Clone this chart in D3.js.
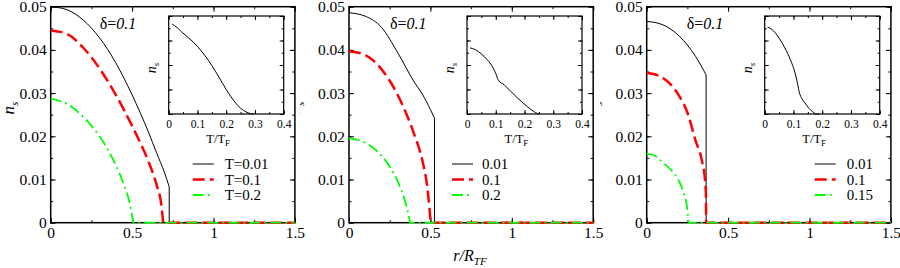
<!DOCTYPE html>
<html><head><meta charset="utf-8">
<script src="https://cdn.jsdelivr.net/npm/d3@7"></script>
<style>
body{margin:0;background:#fff}
svg{display:block}
svg text{font-family:"Liberation Serif","Times New Roman",Times,"Nimbus Roman","DejaVu Serif",serif !important;fill:#000}
</style>
</head><body>
<svg id="c" width="900" height="268" font-family="Liberation Serif, Times New Roman, Times, DejaVu Serif, serif"></svg>
<script>
// ---------------- DATA ----------------
const xTickValues = [0, 0.5, 1, 1.5];
const xTickLabels = ["0", "0.5", "1", "1.5"];
const yTickValues = [0, 0.01, 0.02, 0.03, 0.04, 0.05];
const yTickLabels = ["0", "0.01", "0.02", "0.03", "0.04", "0.05"];
const insetXTickValues = [0, 0.1, 0.2, 0.3, 0.4];
const insetXTickLabels = ["0", "0.1", "0.2", "0.3", "0.4"];

const legend1 = ["T=0.01", "T=0.1", "T=0.2"];
const legend2 = ["0.01", "0.1", "0.2"];
const legend3 = ["0.01", "0.1", "0.15"];
const deltaText = ["δ=", "0.1"];

// panel 1 : n_s(r)
const p1Black = [[0,0.0500],[0.1,0.0493],[0.2,0.0469],[0.3,0.0428],[0.4,0.0370],[0.5,0.0296],[0.6,0.0210],[0.65,0.0162],[0.7,0.0115],[0.728,0.0083]];
const p1Red   = [[0,0.0445],[0.1,0.0437],[0.2,0.0405],[0.3,0.0357],[0.4,0.0296],[0.5,0.0224],[0.55,0.0185],[0.6,0.0142],[0.65,0.0088],[0.68,0.0040],[0.691,0]];
const p1Green = [[0,0.0287],[0.1,0.0275],[0.2,0.0245],[0.3,0.0200],[0.35,0.0170],[0.4,0.0133],[0.45,0.0088],[0.48,0.0053],[0.5,0.0015],[0.507,0]];
// panel 2
const p2Black = [[0,0.0486],[0.1,0.0478],[0.2,0.0452],[0.3,0.0393],[0.4,0.0326],[0.45,0.0298],[0.5,0.0262],[0.525,0.0242]];
const p2Red   = [[0,0.0397],[0.1,0.0388],[0.2,0.0355],[0.3,0.0295],[0.4,0.0205],[0.45,0.0145],[0.48,0.0085],[0.495,0.0030],[0.502,0]];
const p2Green = [[0,0.0195],[0.1,0.0185],[0.2,0.0155],[0.25,0.0130],[0.3,0.0095],[0.34,0.0055],[0.365,0.0020],[0.375,0]];
// panel 3
const p3Black = [[0,0.0466],[0.1,0.0458],[0.2,0.0432],[0.3,0.0385],[0.365,0.0342]];
const p3Red   = [[0,0.0347],[0.1,0.0335],[0.2,0.0293],[0.25,0.0255],[0.3,0.0190],[0.34,0.0142],[0.358,0.0099],[0.364,0.0065],[0.365,0]];
const p3Green = [[0,0.0160],[0.05,0.0155],[0.1,0.0139],[0.15,0.0122],[0.2,0.0095],[0.23,0.0065],[0.25,0.0030],[0.257,0]];

// insets : n_s vs T/T_F
const inset1 = [[0.012,0.0367],[0.03,0.0352],[0.045,0.0335],[0.07,0.0310],[0.10,0.0276],[0.125,0.0240],[0.15,0.0198],[0.175,0.0150],[0.20,0.0100],[0.22,0.0065],[0.24,0.0035],[0.26,0.0015],[0.28,0.0003],[0.295,0]];
const inset2 = [[0.01,0.0270],[0.03,0.0262],[0.05,0.0245],[0.07,0.0222],[0.09,0.0190],[0.10,0.0165],[0.108,0.0140],[0.13,0.0118],[0.15,0.0095],[0.17,0.0072],[0.19,0.0050],[0.21,0.0030],[0.23,0.0012],[0.245,0.0002],[0.25,0]];
const inset3 = [[0.01,0.0355],[0.03,0.0340],[0.05,0.0310],[0.07,0.0270],[0.09,0.0220],[0.105,0.0170],[0.115,0.0120],[0.12,0.0090],[0.13,0.0062],[0.14,0.0045],[0.155,0.0022],[0.17,0.0006],[0.18,0],[0.19,0]];

// ---------------- LAYOUT ----------------
const FONT = '"Liberation Serif","Times New Roman",Times,"DejaVu Serif",serif';
const svg = d3.select("#c");
const yTopPx = 6.7, yBotPx = 222.7, pxPerUnit = 162.8;
const panels = [
  {x0:50.7, series:[p1Black,p1Red,p1Green], inset:inset1, legend:legend1, dx:49, legX:142, legText:174, clipL:0},
  {x0:349,  series:[p2Black,p2Red,p2Green], inset:inset2, legend:legend2, dx:41, legX:103, legText:133, clipL:300},
  {x0:646.7,series:[p3Black,p3Red,p3Green], inset:inset3, legend:legend3, dx:40, legX:168, legText:200, clipL:600}
];
const styles = [
  {stroke:"#000", width:1, dash:null},
  {stroke:"#ff0000", width:2.5, dash:"12,5"},
  {stroke:"#00ff00", width:1.8, dash:"11,4,2,4"}
];

function tickAxis(axisFn, scale, values, size) {
  return axisFn(scale).tickValues(values).tickSizeInner(-size).tickSizeOuter(0).tickFormat("");
}
function minorVals(domain, step) {
  const out = [];
  for (let v = domain[0]; v <= domain[1] + 1e-9; v += step) out.push(+v.toFixed(6));
  return out;
}
function styleLabels(sel, size) {
  sel.attr("font-family", FONT).selectAll("text").attr("font-family", FONT).style("font-size", size);
}

panels.forEach((p, pi) => {
  const g = svg.append("g");
  const x = d3.scaleLinear().domain([0, 1.5]).range([p.x0, p.x0 + 1.5 * pxPerUnit]);
  const y = d3.scaleLinear().domain([0, 0.05]).range([yBotPx, yTopPx]);
  const xr = x.range(), yr = y.range();

  // frame
  g.append("rect").attr("x", xr[0]).attr("y", yr[1]).attr("width", xr[1]-xr[0]).attr("height", yr[0]-yr[1])
    .attr("fill", "none").attr("stroke", "#000").attr("stroke-width", 1.5);

  const xMinor = minorVals([0,1.5], 0.25), yMinor = minorVals([0,0.05], 0.005);
  const axes = [
    [d3.axisBottom, yr[0], x, 0], [d3.axisTop, yr[1], x, 0],
    [d3.axisLeft, xr[0], y, 1], [d3.axisRight, xr[1], y, 1]
  ];
  axes.forEach(([fn, pos, sc, vert]) => {
    const tr = vert ? `translate(${pos},0)` : `translate(0,${pos})`;
    const maj = vert ? yTickValues : xTickValues;
    const mn = vert ? yMinor : xMinor;
    g.append("g").attr("transform", tr).call(tickAxis(fn, sc, mn, 2.5)).call(a => a.select(".domain").remove())
      .selectAll("line").attr("stroke", "#000");
    g.append("g").attr("transform", tr).call(tickAxis(fn, sc, maj, 5)).call(a => a.select(".domain").remove())
      .selectAll("line").attr("stroke", "#000");
  });

  // tick labels
  g.append("g").attr("transform", `translate(0,${yr[0]})`)
    .call(d3.axisBottom(x).tickValues(xTickValues).tickSize(0).tickPadding(4).tickFormat((d,i)=>xTickLabels[i]))
    .call(a => a.select(".domain").remove())
    .call(s => styleLabels(s, "15.5px"));
  g.append("g").attr("transform", `translate(${xr[0]},0)`)
    .call(d3.axisLeft(y).tickValues(yTickValues).tickSize(0).tickPadding(4).tickFormat((d,i)=>yTickLabels[i]))
    .call(a => a.select(".domain").remove())
    .call(s => styleLabels(s, "15.5px"));

  // y label (clipped to the panel's own strip)
  const cid = "clip" + pi;
  svg.append("clipPath").attr("id", cid).append("rect").attr("x", p.clipL).attr("y", 0).attr("width", 300).attr("height", 268);
  const yl = svg.append("g").attr("clip-path", `url(#${cid})`).append("text")
    .attr("transform", `translate(${p.x0 - (pi === 0 ? 37 : 49)},108) rotate(-90)`)
    .attr("text-anchor", "middle").attr("font-family", FONT).style("font-size", "17px").style("font-style", "italic");
  yl.append("tspan").text("n");
  yl.append("tspan").attr("dy", 4).style("font-size", "11px").text("s");

  // series
  const smooth = d3.line().x(d => x(d[0])).y(d => y(d[1])).curve(d3.curveMonotoneX);
  const lin = d3.line().x(d => x(d[0])).y(d => y(d[1]));
  p.series.forEach((pts, si) => {
    const last = pts[pts.length - 1];
    const tail = [last, [last[0], 0], [1.5, 0]];
    const dStr = smooth(pts) + lin(tail).replace(/^M[^LC]*/, "");
    const st = styles[si];
    g.append("path").attr("d", dStr).attr("fill", "none").attr("stroke", st.stroke)
      .attr("stroke-width", st.width).attr("stroke-dasharray", st.dash);
  });

  // delta label
  const dt = g.append("text").attr("x", p.x0 + p.dx).attr("y", 29).attr("font-family", FONT).style("font-size", "16px");
  dt.append("tspan").text(deltaText[0]);
  dt.append("tspan").style("font-style", "italic").text(deltaText[1]);

  // legend
  p.legend.forEach((lab, i) => {
    const ly = 164 + i * 15.5;
    const st = styles[i];
    g.append("line").attr("x1", p.x0 + p.legX).attr("x2", p.x0 + p.legX + 21).attr("y1", ly).attr("y2", ly)
      .attr("stroke", st.stroke).attr("stroke-width", st.width).attr("stroke-dasharray", st.dash);
    g.append("text").attr("x", p.x0 + p.legText).attr("y", ly + 5).attr("font-family", FONT)
      .style("font-size", "15px").text(lab);
  });

  // inset
  const ix0 = p.x0 + 118, iw = 115, iy0 = 16, ih = 98;
  const ix = d3.scaleLinear().domain([0, 0.4]).range([ix0, ix0 + iw]);
  const iy = d3.scaleLinear().domain([0, 0.04]).range([iy0 + ih, iy0]);
  g.append("rect").attr("x", ix0).attr("y", iy0).attr("width", iw).attr("height", ih)
    .attr("fill", "#fff").attr("stroke", "#000").attr("stroke-width", 1.2);
  const ixMinor = minorVals([0,0.4], 0.05), iyMinor = minorVals([0,0.04], 0.005), iyMajor = minorVals([0,0.04], 0.01);
  [[d3.axisBottom, iy0+ih, ix, 0], [d3.axisTop, iy0, ix, 0], [d3.axisLeft, ix0, iy, 1], [d3.axisRight, ix0+iw, iy, 1]]
  .forEach(([fn, pos, sc, vert]) => {
    const tr = vert ? `translate(${pos},0)` : `translate(0,${pos})`;
    const maj = vert ? iyMajor : insetXTickValues;
    const mn = vert ? iyMinor : ixMinor;
    g.append("g").attr("transform", tr).call(tickAxis(fn, sc, mn, 2)).call(a => a.select(".domain").remove())
      .selectAll("line").attr("stroke", "#000");
    g.append("g").attr("transform", tr).call(tickAxis(fn, sc, maj, 4)).call(a => a.select(".domain").remove())
      .selectAll("line").attr("stroke", "#000");
  });
  g.append("g").attr("transform", `translate(0,${iy0+ih})`)
    .call(d3.axisBottom(ix).tickValues(insetXTickValues).tickSize(0).tickPadding(5.5).tickFormat((d,i)=>insetXTickLabels[i]))
    .call(a => a.select(".domain").remove())
    .call(s => styleLabels(s, "11.5px"));
  const ismooth = d3.line().x(d => ix(d[0])).y(d => iy(d[1])).curve(d3.curveMonotoneX);
  g.append("path").attr("d", ismooth(p.inset)).attr("fill", "none").attr("stroke", "#000").attr("stroke-width", 1);
  const itx = g.append("text").attr("x", ix0 + iw/2 - 8).attr("y", 143).attr("text-anchor", "middle")
    .attr("font-family", FONT).style("font-size", "12.5px");
  itx.append("tspan").text("T/T");
  itx.append("tspan").attr("dy", 3).style("font-size", "9px").text("F");
  const ity = g.append("text").attr("transform", `translate(${ix0 - 13},68) rotate(-90)`)
    .attr("text-anchor", "middle").attr("font-family", FONT).style("font-size", "14px").style("font-style", "italic");
  ity.append("tspan").text("n");
  ity.append("tspan").attr("dy", 3).style("font-size", "9px").text("s");
});

// shared x label
const xl = svg.append("text").attr("x", 470).attr("y", 261).attr("text-anchor", "middle")
  .attr("font-family", FONT).style("font-size", "16px").style("font-style", "italic");
xl.append("tspan").text("r/R");
xl.append("tspan").attr("dy", 4).style("font-size", "11px").text("TF");
</script>
</body></html>
